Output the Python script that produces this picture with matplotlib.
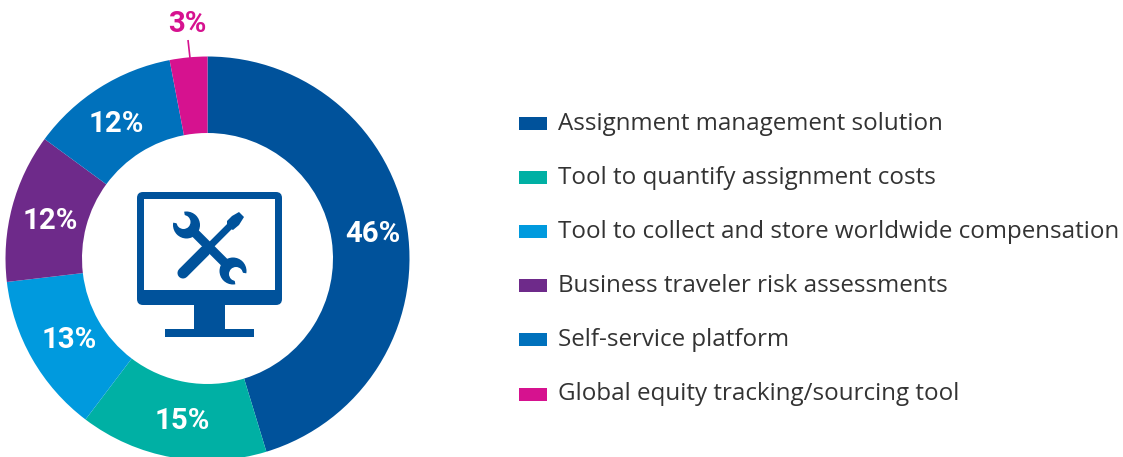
import matplotlib
matplotlib.use('Agg')
import matplotlib.pyplot as plt
from matplotlib.patches import Rectangle, FancyBboxPatch, Wedge, Circle, Polygon

W, H = 1123, 457

categories = ['Assignment management solution',
              'Tool to quantify assignment costs',
              'Tool to collect and store worldwide compensation',
              'Business traveler risk assessments',
              'Self-service platform',
              'Global equity tracking/sourcing tool']
labels = [46, 15, 13, 12, 12, 3]
# slice sizes as measured on the ring, the printed labels are rounded and add to 101
shares = [45.2, 15.0, 12.8, 11.9, 11.9, 3.0]
colours = ['#00529B', '#00B0A4', '#009ADE', '#6E2A8A', '#0071BC', '#D6128F']

NAVY = colours[0]


def Y(y):
    # reference pixel rows run downwards, the axes run upwards
    return H - y


def main():
    plt.rcParams['font.family'] = ['Open Sans', 'DejaVu Sans']
    fig = plt.figure(figsize=(W / 100, H / 100), dpi=100)
    ax = fig.add_axes([0, 0, 1, 1])

    ax.pie(shares, colors=colours, startangle=90, counterclock=False,
           center=(207.5, Y(258.5)), radius=202, frame=True,
           wedgeprops={'width': 76.5, 'linewidth': 0})

    # percent labels
    label_xy = [(373, 231), (182, 418), (69, 337), (50, 218), (116, 121)]
    for v, (x, y) in zip(labels, label_xy):
        ax.text(x, Y(y), f'{v}%', color='white', fontsize=21.2, fontweight='bold',
                family='Roboto', ha='center', va='center_baseline')
    ax.text(187, Y(21), f'{labels[5]}%', color=colours[5], fontsize=21.2,
            fontweight='bold', family='Roboto', ha='center', va='center_baseline')
    ax.plot([188, 190], [Y(40), Y(58)], color=colours[5], lw=1.2, solid_capstyle='butt')

    Icon(ax)

    # legend
    for i, (name, c) in enumerate(zip(categories, colours)):
        yc = 123.5 + i * 54.1
        ax.add_patch(Rectangle((519, Y(yc + 6.5)), 28, 13, fc=c, ec='none'))
        ax.text(558, Y(yc + 6.5), name, color='#333333', fontsize=17.35,
                ha='left', va='baseline')

    ax.set_xlim(0, W)
    ax.set_ylim(0, H)
    ax.set_aspect('auto')
    ax.set_axis_off()
    fig.savefig('out.png', dpi=100)


def Head(ax, cx, cy, a1, a2, dx, dy):
    # spanner head: solid disc with the jaw opening cut out in white
    ax.add_patch(Circle((cx, Y(cy)), 13.5, fc=NAVY, ec='none', zorder=3))
    ax.add_patch(Wedge((cx, Y(cy)), 15, a1, a2, fc='white', ec='none', zorder=4))
    ax.add_patch(Circle((cx + dx, Y(cy + dy)), 7, fc='white', ec='none', zorder=4))


def Icon(ax):
    # monitor
    ax.add_patch(FancyBboxPatch((140, Y(302)), 139, 107,
                                boxstyle='round,pad=3,rounding_size=6', fc=NAVY, ec='none'))
    ax.add_patch(Rectangle((144, Y(290)), 131, 91, fc='white', ec='none'))
    ax.add_patch(Rectangle((194, Y(330)), 31, 26, fc=NAVY, ec='none'))
    ax.add_patch(Rectangle((165, Y(337)), 89, 8, fc=NAVY, ec='none'))

    # wrench shaft and heads
    ax.plot([190, 230], [Y(228), Y(268)], color=NAVY, lw=6.5, solid_capstyle='butt', zorder=3)
    Head(ax, 186.5, 225, 100, 170, -3, -3)
    Head(ax, 233, 271, 280, 350, 3, 3)

    # screwdriver handle, shaft and blade
    ax.plot([183, 205], [Y(273), Y(251)], color=NAVY, lw=8, solid_capstyle='round', zorder=3)
    ax.plot([205, 230], [Y(251), Y(226)], color=NAVY, lw=5, solid_capstyle='butt', zorder=3)
    blade = [(227, 221), (232, 216), (239, 212), (244, 217), (239, 225), (233, 230), (227, 227)]
    ax.add_patch(Polygon([(x, Y(y)) for x, y in blade], fc=NAVY, ec='none', zorder=3))


if __name__ == "__main__":
    main()
